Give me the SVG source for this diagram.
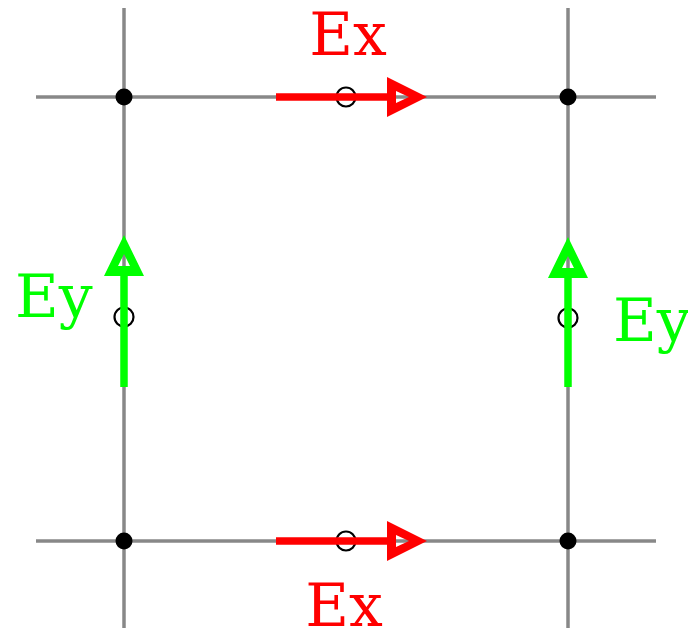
<svg xmlns="http://www.w3.org/2000/svg" width="688" height="632" viewBox="0 0 688 632">
<style>
.grid{stroke:#888888;stroke-width:3.5;fill:none}
.dot{fill:#000000}
.hole{fill:none;stroke:#000000;stroke-width:2.2}
.ex{stroke:#ff0000;stroke-width:7.5;fill:none}
.ey{stroke:#00ff00;stroke-width:7.5;fill:none}
.exh{fill:#ff0000;fill-rule:evenodd}
.eyh{fill:#00ff00;fill-rule:evenodd}
.lbl{font-family:"DejaVu Serif",serif;font-size:60px}
</style>
<rect width="688" height="632" fill="#ffffff"/>
<g id="grid">
<line class="grid" x1="124" y1="8" x2="124" y2="628"/>
<line class="grid" x1="568" y1="8" x2="568" y2="628"/>
<line class="grid" x1="36" y1="97" x2="656" y2="97"/>
<line class="grid" x1="36" y1="541" x2="656" y2="541"/>
</g>
<g id="nodes">
<circle id="n1" class="dot" cx="124" cy="97" r="8.5"/>
<circle id="n2" class="dot" cx="568" cy="97" r="8.5"/>
<circle id="n3" class="dot" cx="124" cy="541" r="8.5"/>
<circle id="n4" class="dot" cx="568" cy="541" r="8.5"/>
<circle id="h1" class="hole" cx="346" cy="97" r="9.5"/>
<circle id="h2" class="hole" cx="346" cy="541" r="9.5"/>
<circle id="h3" class="hole" cx="124" cy="317" r="9.5"/>
<circle id="h4" class="hole" cx="568" cy="318" r="9.5"/>
</g>
<g id="connectors">
<line class="ex" x1="276" y1="97" x2="390" y2="97"/>
<path class="exh" d="M387,77 L427,97 L387,117 Z M396,91 L409,97 L396,103 Z"/>
<line class="ex" x1="276" y1="541" x2="390" y2="541"/>
<path class="exh" d="M387,521 L427,541 L387,561 Z M396,535 L409,541 L396,547 Z"/>
<line class="ey" x1="124" y1="387" x2="124" y2="273"/>
<path class="eyh" d="M104,276 L124,235 L144,276 Z M118,266 L124,254 L130,266 Z"/>
<line class="ey" x1="568" y1="387" x2="568" y2="273"/>
<path class="eyh" d="M548,278 L568,237 L588,278 Z M562,268 L568,256 L574,268 Z"/>
</g>
<g id="labels">
<text class="lbl" x="348" y="55" fill="#ff0000" text-anchor="middle">Ex</text>
<text class="lbl" x="344" y="626" fill="#ff0000" text-anchor="middle">Ex</text>
<text class="lbl" x="15" y="317" fill="#00ff00">Ey</text>
<text class="lbl" x="613" y="341" fill="#00ff00">Ey</text>
</g>
</svg>
